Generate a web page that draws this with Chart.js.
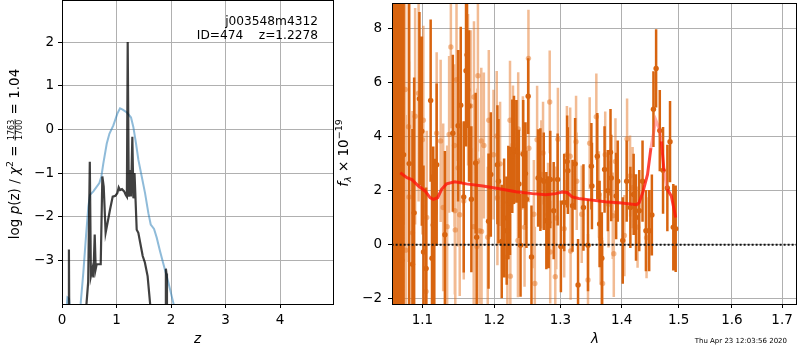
<!DOCTYPE html>
<html>
<head>
<meta charset="utf-8">
<script src="https://cdn.jsdelivr.net/npm/chart.js@4.4.0/dist/chart.umd.min.js"></script>
<style>
html, body { margin: 0; padding: 0; background: #fff; }
#wrap { position: relative; width: 800px; height: 350px; }
canvas { position: absolute; top: 0; }
</style>
</head>
<body>
<div id="wrap">
  <canvas id="pzChart" width="340" height="350" style="left:0"></canvas>
  <canvas id="specChart" width="470" height="350" style="left:330px"></canvas>
</div>
<script>
// --- labels ---
const objName = 'j003548m4312';
const objId = 474;
const zBest = 1.2278;
const chi2Num = 1763, chi2Den = 1700, chi2Red = '1.04';
const stamp = 'Thu Apr 23 12:03:56 2020';

// --- left panel: log p(z) ---
const zTicks = [0, 1, 2, 3, 4];
const pzTicks = [-3, -2, -1, 0, 1, 2];

const blueZ = [0.05, 0.10, 0.13, 0.16, 0.25, 0.343, 0.391, 0.440, 0.483, 0.514, 0.575, 0.685, 0.722, 0.758, 0.820, 0.869, 0.942, 1.015, 1.064, 1.113, 1.187, 1.266, 1.309, 1.358, 1.401, 1.462, 1.523, 1.584, 1.627, 1.688, 1.737, 1.798, 1.872, 1.951, 2.043, 2.2];
const blueLogP = [-4.6, -3.85, -3.88, -4.4, -5.0, -3.98, -3.28, -2.45, -1.77, -1.50, -1.42, -1.23, -1.08, -0.78, -0.33, -0.10, 0.09, 0.36, 0.48, 0.45, 0.39, 0.27, 0.05, -0.33, -0.70, -1.08, -1.46, -1.92, -2.18, -2.28, -2.48, -2.79, -3.14, -3.51, -3.98, -5.0];

const blackZ = [0.10, 0.122, 0.127, 0.133, 0.30, 0.45, 0.48, 0.51, 0.53, 0.557, 0.575, 0.60, 0.618, 0.636, 0.71, 0.74, 0.765, 0.80, 0.84, 0.88, 0.93, 0.98, 1.015, 1.04, 1.064, 1.10, 1.14, 1.17, 1.19, 1.205, 1.225, 1.254, 1.266, 1.29, 1.31, 1.33, 1.37, 1.40, 1.48, 1.52, 1.57, 1.615, 1.75, 1.895, 1.905, 1.915, 1.925, 2.1];
const blackLogP = [-4.6, -4.3, -2.75, -4.3, -6.0, -3.98, -3.5, -0.74, -3.36, -3.2, -3.39, -2.41, -3.2, -3.09, -3.09, -1.08, -1.31, -2.37, -2.11, -1.84, -1.54, -1.52, -1.46, -1.33, -1.39, -1.37, -1.42, -1.5, -1.54, 2.0, -1.54, -0.93, -1.54, -0.17, -1.58, -1.0, -2.30, -2.37, -2.9, -3.05, -3.36, -3.98, -5.5, -4.2, -3.19, -3.3, -4.3, -6.0];

// --- right panel: spectrum ---
const waveTicks = [1.1, 1.2, 1.3, 1.4, 1.5, 1.6, 1.7];
const fluxTicks = [-2, 0, 2, 4, 6, 8];

const darkWave = [1.0608, 1.0640, 1.0672, 1.0697, 1.0723, 1.0729, 1.0753, 1.0826, 1.0869, 1.0891, 1.0961, 1.0993, 1.1015, 1.1050, 1.1111, 1.1129, 1.1146, 1.1160, 1.1192, 1.1304, 1.1413, 1.1486, 1.1523, 1.1565, 1.1597, 1.1611, 1.1639, 1.1672, 1.1733, 1.1747, 1.1917, 1.1950, 1.2046, 1.2061, 1.2109, 1.2144, 1.2182, 1.2206, 1.2231, 1.2265, 1.2290, 1.2328, 1.2364, 1.2388, 1.2428, 1.2462, 1.2477, 1.2503, 1.2553, 1.2654, 1.2689, 1.2741, 1.2781, 1.2817, 1.2842, 1.2895, 1.2957, 1.3008, 1.3060, 1.3107, 1.3118, 1.3192, 1.3234, 1.3281, 1.3368, 1.3442, 1.3497, 1.3506, 1.3594, 1.3632, 1.3669, 1.3714, 1.3768, 1.3813, 1.3825, 1.3908, 1.3934, 1.4019, 1.4086, 1.4149, 1.4205, 1.4246, 1.4302, 1.4359, 1.4418, 1.4475, 1.4522, 1.4550, 1.4597, 1.4662, 1.4720, 1.4797, 1.4845, 1.4904, 1.4947];
const darkFlux = [2.0, 4.0, 1.0, 3.0, 3.08, -0.57, 3.33, 3.0, -0.72, 1.18, 5.4, 4.2, -0.27, -0.88, 5.33, -0.5, 0.73, 0.18, 2.96, 0.37, 4.12, 4.4, 5.16, 1.77, 6.43, 7.02, 5.13, 1.68, 3.02, 0.28, 0.87, 2.6, 2.96, 2.35, 0.12, 0.99, 0.52, 1.56, 1.62, 3.27, 3.51, 3.45, 2.25, -0.02, 3.35, 2.63, 1.68, 5.49, -0.45, 2.47, 2.41, 2.35, 0.89, 0.83, 2.41, 1.26, 2.41, -0.06, 1.56, 3.08, 2.74, 1.44, 2.99, -1.49, 1.38, -0.02, 2.9, 2.17, 3.27, 0.77, -0.5, 2.78, 2.0, 3.42, 2.47, 1.8, 2.35, 0.16, 2.35, 1.38, 1.86, 1.01, 1.26, 2.35, 0.52, 0.52, 1.1, 5.01, 6.52, 4.22, 2.75, 2.1, 3.81, 0.65, 0.59];
const darkErr = [9, 9, 9, 8, 7, 6, 6, 6, 5, 5, 3.2, 3.5, 3.2, 3.0, 3.0, 3.1, 2.9, 3.0, 3.0, 3.1, 2.9, 2.8, 2.9, 2.8, 2.8, 2.7, 2.8, 2.7, 2.6, 2.7, 2.5, 2.3, 2.2, 2.3, 2.1, 2.2, 2.0, 2.1, 2.0, 2.1, 2.0, 1.9, 2.0, 1.9, 2.0, 1.9, 1.8, 1.4, 1.9, 1.8, 1.9, 1.8, 1.8, 1.7, 1.8, 1.8, 1.7, 1.7, 1.8, 1.7, 1.6, 1.7, 1.7, 1.7, 1.6, 1.7, 1.6, 1.6, 1.6, 1.6, 1.7, 1.6, 1.5, 1.6, 1.6, 1.6, 1.5, 1.6, 1.5, 1.5, 1.5, 1.6, 1.5, 1.5, 1.5, 1.5, 1.5, 1.4, 1.45, 1.5, 1.6, 1.6, 1.5, 1.6, 1.6];

const lightWave = [1.0608, 1.0659, 1.0723, 1.0774, 1.0781, 1.0817, 1.0823, 1.0869, 1.0904, 1.0950, 1.1000, 1.1013, 1.1049, 1.1058, 1.1192, 1.1246, 1.1281, 1.1335, 1.1362, 1.1386, 1.1436, 1.1441, 1.1447, 1.1464, 1.1486, 1.1509, 1.1565, 1.1625, 1.1662, 1.1705, 1.1709, 1.1751, 1.1757, 1.1765, 1.1789, 1.1813, 1.1817, 1.1850, 1.1906, 1.1921, 1.1989, 1.2036, 1.2046, 1.2085, 1.2192, 1.2231, 1.2236, 1.2275, 1.2349, 1.2353, 1.2423, 1.2448, 1.2507, 1.2513, 1.2589, 1.2604, 1.2639, 1.2704, 1.2730, 1.2807, 1.2833, 1.2841, 1.2920, 1.2935, 1.2961, 1.3060, 1.3103, 1.3155, 1.3162, 1.3249, 1.3260, 1.3340, 1.3442, 1.3469, 1.3578, 1.3620, 1.3648, 1.3681, 1.3725, 1.3780, 1.3851, 1.3868, 1.3896, 1.4047, 1.4093, 1.4144, 1.4188, 1.4273, 1.4429];
const lightFlux = [5.0, -0.5, 6.5, 5.74, -0.2, 4.36, 1.77, 0.44, 4.75, 5.6, 3.88, 4.6, -1.73, 1.01, 4.12, 3.84, 1.38, 0.67, 4.08, 7.31, 3.67, 1.26, 0.55, 6.1, 2.84, 1.11, 1.62, 5.73, 5.13, 0.67, 5.46, -0.06, 3.08, 6.25, 0.52, 3.84, 0.49, 3.67, 0.28, 4.6, 3.33, 4.02, 1.74, 2.99, -0.45, 4.6, -1.16, 3.69, 0.16, 4.28, 3.39, 0.65, 6.89, 3.57, 1.13, -1.43, 3.88, 2.6, 3.39, 1.13, 5.28, -0.27, -1.18, 0.99, 3.9, 0.59, 3.33, 3.27, -0.23, 3.81, 2.35, 1.13, -1.3, 3.75, 4.73, 1.86, 0.22, -1.43, 3.33, 1.5, 1.07, -0.33, 3.08, 0.34, 3.91, 2.54, 2.11, 0.65, 0.26];
const lightErr = [8, 8, 6, 5, 5, 5, 5, 4.5, 4, 4, 3.5, 3.5, 3.2, 3.2, 3.0, 3.0, 3.1, 3.0, 2.9, 3.0, 3.0, 3.1, 3.0, 3.0, 2.9, 3.0, 2.9, 2.8, 2.8, 2.9, 2.8, 2.8, 2.7, 2.8, 2.7, 2.7, 2.8, 2.7, 2.6, 2.6, 2.4, 2.4, 2.5, 2.3, 2.2, 2.2, 2.3, 2.2, 2.1, 2.1, 2.1, 2.2, 1.8, 2.0, 2.0, 2.1, 2.0, 2.0, 1.9, 1.9, 1.9, 1.9, 2.0, 1.9, 1.9, 1.8, 1.8, 1.8, 1.8, 1.7, 1.8, 1.8, 1.7, 1.7, 1.6, 1.6, 1.7, 1.6, 1.6, 1.6, 1.6, 1.6, 1.6, 1.5, 1.5, 1.5, 1.5, 1.5, 1.5];

const modelWave = [1.0710, 1.0796, 1.0861, 1.0948, 1.1036, 1.1102, 1.1146, 1.1205, 1.1259, 1.1327, 1.1441, 1.1602, 1.1836, 1.2075, 1.2319, 1.2568, 1.2772, 1.2926, 1.3029, 1.3107, 1.3186, 1.3292, 1.3506, 1.3725, 1.4002, 1.4256, 1.4302, 1.4371, 1.4446, 1.4505, 1.4592, 1.4650, 1.4690, 1.4738, 1.4797, 1.4868, 1.4947];
const modelFlux = [2.66, 2.48, 2.41, 2.17, 1.99, 1.74, 1.68, 1.74, 2.05, 2.25, 2.33, 2.25, 2.17, 2.07, 1.96, 1.89, 1.85, 1.89, 1.95, 1.93, 1.77, 1.71, 1.65, 1.59, 1.54, 1.48, 1.56, 1.99, 2.6, 3.57, 4.61, 4.3, 3.82, 2.72, 2.05, 1.8, 1.01];

const FONT = "'DejaVu Sans', sans-serif";
Chart.defaults.font.family = FONT;
Chart.defaults.font.size = 13.5;
Chart.defaults.color = '#000';

const DARK = '#d8640f';
const LIGHT = 'rgba(230,120,40,0.5)';

function toPoints(xs, ys) {
    return xs.map((x, i) => ({x: x, y: ys[i]}));
}

// error bars as one broken line: low, high, gap
function errorBars(wave, flux, err) {
    const pts = [];
    wave.forEach((w, i) => {
        pts.push({x: w, y: flux[i] - err[i]}, {x: w, y: flux[i] + err[i]}, {x: w, y: null});
    });
    return pts;
}

function minus(v) {
    return v < 0 ? '\u2212' + Math.abs(v) : String(v);
}

// rotated axis label made of text runs; x is the baseline, y the centre
function mathLabel(ctx, x, y, runs) {
    ctx.save();
    ctx.translate(x, y);
    ctx.rotate(-Math.PI / 2);
    ctx.fillStyle = '#000';
    ctx.textBaseline = 'alphabetic';
    let total = 0;
    runs.forEach(r => {
        ctx.font = r.font;
        r.w = r.num ? Math.max(ctx.measureText(r.num).width, ctx.measureText(r.den).width) + 2 : ctx.measureText(r.text).width;
        total += r.w;
    });
    let pos = -total / 2;
    runs.forEach(r => {
        ctx.font = r.font;
        if (r.num) {
            ctx.textAlign = 'center';
            ctx.fillText(r.num, pos + r.w / 2, -4.9);
            ctx.fillText(r.den, pos + r.w / 2, 3.2);
            ctx.fillRect(pos + 0.5, -4.3, r.w - 1, 0.8);
        } else {
            ctx.textAlign = 'left';
            ctx.fillText(r.text, pos, r.dy || 0);
        }
        pos += r.w;
    });
    ctx.restore();
}

const f13 = '13.5px ' + FONT, it13 = 'italic 13.5px ' + FONT;
const f9 = '9.5px ' + FONT, it9 = 'italic 9.5px ' + FONT, f8 = '8px ' + FONT;

const framePlugin = {
    id: 'frame',
    afterDatasetsDraw(chart) {
        const {ctx, chartArea: a} = chart;
        ctx.save();
        ctx.strokeStyle = '#000';
        ctx.lineWidth = 1;
        ctx.strokeRect(Math.round(a.left) + 0.5, Math.round(a.top) - 0.5, Math.round(a.right - a.left), Math.round(a.bottom - a.top) + 1);
        ctx.restore();
    }
};

// fixed axis box, no label overhang padding
function fixBox(size) {
    return s => {
        if (s.isHorizontal()) s.height = size; else s.width = size;
        s.paddingTop = 0;
        s.paddingBottom = 0;
        s.paddingLeft = 0;
        s.paddingRight = 0;
    };
}

function axisOpts(min, max, tickVals, fmt, extra) {
    return Object.assign({
        min: min,
        max: max,
        afterBuildTicks: s => { s.ticks = tickVals.map(v => ({value: v})); },
        grid: {color: '#b0b0b0', lineWidth: 1, tickColor: '#000', tickLength: 4},
        border: {display: false},
        ticks: {color: '#000', autoSkip: false, maxRotation: 0, padding: 4, callback: fmt}
    }, extra);
}

// left chart
new Chart(document.getElementById('pzChart'), {
    type: 'line',
    data: {
        datasets: [
            {data: toPoints(blackZ, blackLogP), borderColor: 'rgba(0,0,0,0.75)', borderWidth: 2.2, pointRadius: 0, tension: 0, order: 0},
            {data: toPoints(blueZ, blueLogP), borderColor: 'rgba(31,119,180,0.5)', borderWidth: 2, pointRadius: 0, tension: 0, order: 1}
        ]
    },
    options: {
        responsive: false,
        animation: false,
        events: [],
        layout: {padding: {left: 0, right: 7, top: 1, bottom: 0}},
        plugins: {legend: {display: false}, tooltip: {enabled: false}},
        scales: {
            x: axisOpts(0, 4.97, zTicks, v => String(v), {type: 'linear', afterFit: fixBox(46)}),
            y: axisOpts(-4.0, 2.94, pzTicks, minus, {type: 'linear', afterFit: fixBox(62)})
        }
    },
    plugins: [framePlugin, {
        id: 'pzText',
        afterDraw(chart) {
            const ctx = chart.ctx;
            ctx.save();
            ctx.fillStyle = '#000';
            ctx.font = '12.2px ' + FONT;
            ctx.textAlign = 'right';
            ctx.textBaseline = 'alphabetic';
            ctx.fillText(objName, 318, 24.5);
            ctx.fillText('ID=' + objId + '    z=' + zBest.toFixed(4), 318, 39);
            ctx.font = it13;
            ctx.textAlign = 'center';
            ctx.textBaseline = 'middle';
            ctx.fillText('z', 197.5, 339);
            ctx.restore();
            mathLabel(ctx, 19, 154, [
                {text: 'log ', font: f13},
                {text: 'p', font: it13},
                {text: '(z) / ', font: f13},
                {text: '\u03c7', font: it13},
                {text: '2', font: f9, dy: -6},
                {text: ' = ', font: f13},
                {num: String(chi2Num), den: String(chi2Den), font: f8},
                {text: ' = ' + chi2Red, font: f13}
            ]);
        }
    }]
});

// right chart
const X0 = 330;
new Chart(document.getElementById('specChart'), {
    type: 'line',
    data: {
        datasets: [
            {data: [{x: 1.0, y: 0}, {x: 2.0, y: 0}], borderColor: '#111', borderWidth: 2, borderDash: [2, 2], pointRadius: 0, order: 0},
            {data: toPoints(modelWave, modelFlux), borderWidth: 3, pointRadius: 0, tension: 0, order: 1,
             borderColor: 'rgba(255,20,10,0.8)',
             segment: {
                 borderColor: c => {
                     const w = c.p0.parsed.x;
                     return ((w >= 1.450 && w < 1.466) || (w >= 1.473 && w < 1.479)) ? 'rgba(255,70,70,0.45)' : 'rgba(255,20,10,0.8)';
                 }
             }},
            {data: toPoints(darkWave, darkFlux), showLine: false, pointRadius: 2.7, pointBorderWidth: 0, pointBackgroundColor: DARK, order: 2},
            {data: errorBars(darkWave, darkFlux, darkErr), borderColor: DARK, borderWidth: 2.5, pointRadius: 0, spanGaps: false, order: 3},
            {data: toPoints(lightWave, lightFlux), showLine: false, pointRadius: 2.7, pointBorderWidth: 0, pointBackgroundColor: LIGHT, order: 4},
            {data: errorBars(lightWave, lightFlux, lightErr), borderColor: LIGHT, borderWidth: 2.5, pointRadius: 0, spanGaps: false, order: 5}
        ]
    },
    options: {
        responsive: false,
        animation: false,
        events: [],
        layout: {padding: {left: 0, right: 1, top: 1, bottom: 0}},
        plugins: {legend: {display: false}, tooltip: {enabled: false}},
        scales: {
            x: axisOpts(1.0603, 1.729, waveTicks, v => v.toFixed(1), {type: 'logarithmic', afterFit: fixBox(46)}),
            y: axisOpts(-2.19, 8.9, fluxTicks, minus, {type: 'linear', afterFit: fixBox(62), ticks: {color: '#000', autoSkip: false, padding: 6, callback: minus}})
        }
    },
    plugins: [framePlugin, {
        id: 'specText',
        afterDraw(chart) {
            const ctx = chart.ctx;
            ctx.save();
            ctx.fillStyle = '#000';
            ctx.font = it13;
            ctx.textAlign = 'center';
            ctx.textBaseline = 'middle';
            ctx.fillText('\u03bb', 595 - X0, 339);
            ctx.font = '7px ' + FONT;
            ctx.textAlign = 'right';
            ctx.textBaseline = 'alphabetic';
            ctx.fillText(stamp, 787 - X0, 342.5);
            ctx.restore();
            mathLabel(ctx, 348 - X0, 153, [
                {text: 'f', font: it13},
                {text: '\u03bb', font: it9, dy: 2.5},
                {text: ' \u00d7 10', font: f13},
                {text: '\u221219', font: f9, dy: -6}
            ]);
        }
    }]
});
</script>
</body>
</html>
